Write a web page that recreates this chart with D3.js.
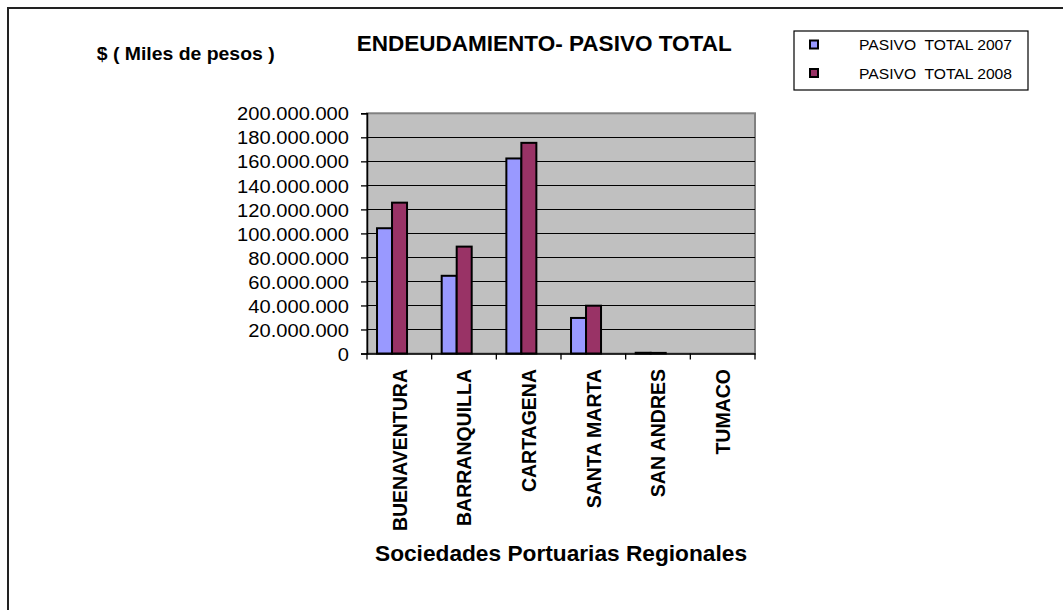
<!DOCTYPE html>
<html><head><meta charset="utf-8">
<script src="https://cdn.jsdelivr.net/npm/d3@7"></script>
<style>
html,body{margin:0;padding:0;background:#fff;}
text{font-family:"Liberation Sans",Arial,sans-serif;fill:#000;}
</style></head>
<body>
<svg id="chart" width="1063" height="610"></svg>
<script>
const categories = ["BUENAVENTURA","BARRANQUILLA","CARTAGENA","SANTA MARTA","SAN ANDRES","TUMACO"];
const seriesNames = ["PASIVO  TOTAL 2007","PASIVO  TOTAL 2008"];
const pasivo2007 = [104300000, 64700000, 162400000, 29600000, 600000, 0];
const pasivo2008 = [125600000, 89000000, 175400000, 39800000, 500000, 0];
const yTicks = [0,20000000,40000000,60000000,80000000,100000000,120000000,140000000,160000000,180000000,200000000];
const colors = ["#9999FF","#993366"];

const svg = d3.select("#chart");
const L = 367, R = 755, T = 113.3, B = 353.5;
const SX = 1.06;

// outer border
svg.append("rect").attr("x",8).attr("y",8).attr("width",1100).attr("height",700)
  .attr("fill","none").attr("stroke","#222").attr("stroke-width",2);

const x = d3.scaleBand().domain(categories).range([L,R]).padding(0);
const y = d3.scaleLinear().domain([0,200000000]).range([B,T]);

// plot area
svg.append("rect").attr("x",L).attr("y",T).attr("width",R-L).attr("height",B-T)
  .attr("fill","#C0C0C0").attr("stroke","#808080").attr("stroke-width",2);

// gridlines
svg.append("g").selectAll("line").data(yTicks.filter(d=>d>0 && d<200000000)).join("line")
  .attr("x1",L).attr("x2",R).attr("y1",d=>Math.round(y(d))+0.5).attr("y2",d=>Math.round(y(d))+0.5)
  .attr("stroke","#000").attr("stroke-width",1.2);

// bars
const bw = x.bandwidth();
const barW = bw*0.232, off = bw*0.155;
const seriesData = [pasivo2007, pasivo2008];
seriesData.forEach((vals,si)=>{
  svg.append("g").selectAll("rect").data(categories.map((c,i)=>({c,v:vals[i]})).filter(d=>d.v>0)).join("rect")
    .attr("x",d=>x(d.c)+off+si*barW).attr("width",barW)
    .attr("y",d=>y(d.v)).attr("height",d=>Math.max(0.5,y(0)-y(d.v)))
    .attr("fill",colors[si]).attr("stroke","#000").attr("stroke-width",2);
});

// y axis
const yAxis = d3.axisLeft(y).tickValues(yTicks).tickSize(6).tickPadding(12)
  .tickFormat(d=>d3.format(",")(d).replace(/,/g,"."));
const gy = svg.append("g").attr("transform",`translate(${L},0)`).call(yAxis);
gy.select(".domain").attr("stroke","#000").attr("stroke-width",1.5);
gy.selectAll(".tick line").attr("stroke","#000").attr("stroke-width",1.3);
gy.selectAll(".tick text").attr("font-size","19px").attr("font-family","Liberation Sans, Arial, sans-serif")
  .attr("x",-18/SX).attr("dy","0.35em").attr("transform",`scale(${SX},1)`);

// x axis
const xAxis = d3.axisBottom(x).tickSize(0).tickFormat("");
const gx = svg.append("g").attr("transform",`translate(0,${B})`).call(xAxis);
gx.select(".domain").attr("stroke","#000").attr("stroke-width",1.5);
gx.selectAll(".tick").remove();
const bounds = categories.map(c=>x(c)).concat([R]);
gx.selectAll("line.bt").data(bounds).join("line").attr("class","bt")
  .attr("x1",d=>d).attr("x2",d=>d).attr("y1",0).attr("y2",6).attr("stroke","#000").attr("stroke-width",1.3);

// category labels
svg.append("g").selectAll("text").data(categories).join("text")
  .attr("transform",d=>`translate(${x(d)+bw/2},369) rotate(-90) scale(1,1.05)`)
  .attr("text-anchor","end").attr("dy","0.35em")
  .attr("font-size","19.5px").attr("font-weight","bold").text(d=>d);

// title
svg.append("text").attr("x",356.7).attr("y",50.5).attr("font-size","22px").attr("font-weight","bold")
  .attr("textLength",375).attr("lengthAdjust","spacingAndGlyphs")
  .text("ENDEUDAMIENTO- PASIVO TOTAL");

// y label
svg.append("text").attr("x",96.7).attr("y",60).attr("font-size","19px").attr("font-weight","bold")
  .attr("textLength",178).attr("lengthAdjust","spacingAndGlyphs")
  .text("$ ( Miles de pesos )");

// x title
svg.append("text").attr("x",375).attr("y",561).attr("font-size","22.5px").attr("font-weight","bold")
  .attr("textLength",372).attr("lengthAdjust","spacingAndGlyphs")
  .text("Sociedades Portuarias Regionales");

// legend
const lg = svg.append("g");
lg.append("rect").attr("x",794).attr("y",31).attr("width",234).attr("height",59)
  .attr("fill","#fff").attr("stroke","#000").attr("stroke-width",1.2);
seriesNames.forEach((n,i)=>{
  const cy = 44.5 + i*28.5;
  lg.append("rect").attr("x",810).attr("y",cy-4).attr("width",8).attr("height",8)
    .attr("fill",colors[i]).attr("stroke","#000").attr("stroke-width",2);
  lg.append("text").attr("x",859).attr("y",cy+5.5).attr("font-size","15px")
    .attr("textLength",153).attr("lengthAdjust","spacingAndGlyphs")
    .style("white-space","pre").text(n);
});
</script>
</body></html>
